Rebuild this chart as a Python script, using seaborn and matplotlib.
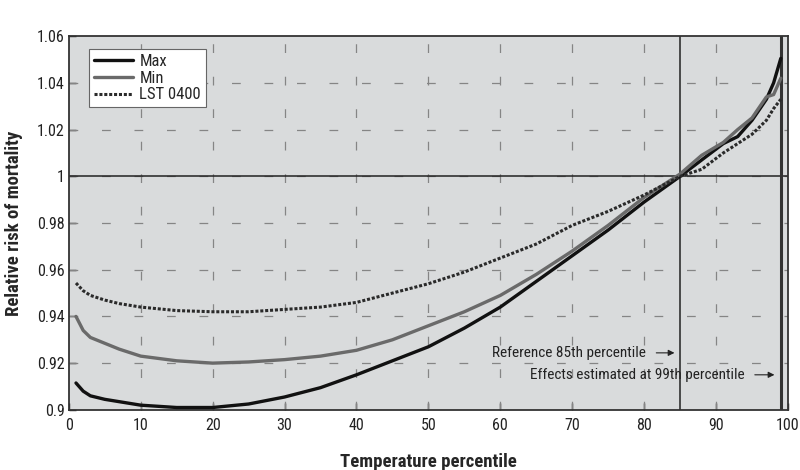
import matplotlib
matplotlib.use('Agg')
import matplotlib.pyplot as plt
from matplotlib import font_manager
import seaborn as sns

pct = [1, 2, 3, 5, 7, 10, 15, 20, 25, 30, 35, 40, 45, 50, 55, 60, 65, 70, 75, 80, 85, 88, 91, 93, 95, 97, 98, 99]

rr_max = [0.9115, 0.908, 0.906, 0.9045, 0.9035, 0.902, 0.901, 0.901, 0.9025, 0.9055, 0.9095, 0.915, 0.921, 0.927,
          0.935, 0.944, 0.955, 0.966, 0.977, 0.989, 1.000, 1.007, 1.014, 1.017, 1.024, 1.033, 1.040, 1.0505]
rr_min = [0.940, 0.934, 0.931, 0.9285, 0.926, 0.923, 0.921, 0.920, 0.9205, 0.9215, 0.923, 0.9255, 0.930, 0.936,
          0.942, 0.949, 0.958, 0.968, 0.979, 0.991, 1.001, 1.009, 1.0145, 1.020, 1.025, 1.034, 1.035, 1.042]
rr_lst = [0.9543, 0.951, 0.949, 0.947, 0.9455, 0.944, 0.9425, 0.942, 0.942, 0.943, 0.944, 0.946, 0.950, 0.954,
          0.959, 0.965, 0.971, 0.979, 0.985, 0.992, 1.000, 1.003, 1.010, 1.014, 1.018, 1.024, 1.029, 1.033]

series_names = ['Max', 'Min', 'LST 0400']
x_ticks = [0, 10, 20, 30, 40, 50, 60, 70, 80, 90, 100]
y_ticks = [0.9, 0.92, 0.94, 0.96, 0.98, 1.0, 1.02, 1.04, 1.06]
y_tick_labels = ['0.9', '0.92', '0.94', '0.96', '0.98', '1', '1.02', '1.04', '1.06']

sns.set_style('ticks')

#pick a narrow face if one is installed
installed = {f.name for f in font_manager.fontManager.ttflist}
narrow = [n for n in ['Liberation Sans Narrow', 'Roboto Condensed', 'DejaVu Sans Condensed'] if n in installed]
plt.rcParams['font.family'] = narrow + ['DejaVu Sans']
plt.rcParams['font.stretch'] = 'condensed'

fig = plt.figure(figsize=(8, 4.7), dpi=100)
ax = fig.add_axes([0.086, 0.128, 0.899, 0.795])
ax.set_facecolor('#d9dbdc')

# dashed grid
for xv in x_ticks[1:-1]:
    ax.axvline(xv, color='#858585', lw=0.9, ls=(0, (7, 19)), zorder=1)
for yv in y_ticks[1:-1]:
    ax.axhline(yv, color='#858585', lw=0.9, ls=(0, (7, 19)), zorder=1)

# reference lines
ax.axhline(1.0, color='#222222', lw=1.1, zorder=2)
ax.axvline(85, color='#222222', lw=1.1, zorder=2)
ax.axvline(99, color='#333333', lw=2.2, zorder=2)

styles = {'Max': dict(color='#111111', lw=2.4, ls='-'),
          'Min': dict(color='#6a6a6a', lw=2.4, ls='-'),
          'LST 0400': dict(color='#2a2a2a', lw=2.2, ls=(0, (1, 0.6)))}
for name, vals in zip(series_names, [rr_max, rr_min, rr_lst]):
    st = styles[name]
    sns.lineplot(x=pct, y=vals, ax=ax, label=name, color=st['color'], linewidth=st['lw'],
                 linestyle=st['ls'], zorder=3)

ax.set_xlim(0, 100)
ax.set_ylim(0.9, 1.06)
ax.set_xticks(x_ticks)
ax.set_yticks(y_ticks)
ax.set_yticklabels(y_tick_labels)
ax.tick_params(axis='x', direction='in', length=5, width=1, labelsize=11.5, colors='#222222', pad=6)
ax.tick_params(axis='y', direction='in', length=5, width=1, labelsize=11.5, colors='#222222', pad=3)
for sp in ax.spines.values():
    sp.set_color('#333333')
    sp.set_linewidth(1.3)

ax.set_xlabel('Temperature percentile', fontsize=13.5, fontweight='bold', labelpad=14)
ax.set_ylabel('Relative risk of mortality', fontsize=13.5, fontweight='bold', labelpad=10)

# annotations
ax.text(80.2, 0.9244, 'Reference 85th percentile', ha='right', va='center', fontsize=11, color='#222222')
ax.annotate('', xy=(84.6, 0.9244), xytext=(81.3, 0.9244),
            arrowprops=dict(arrowstyle='-|>', color='#222222', lw=0.8, mutation_scale=9))
ax.text(94.0, 0.915, 'Effects estimated at 99th percentile', ha='right', va='center', fontsize=11, color='#222222')
ax.annotate('', xy=(98.5, 0.915), xytext=(95.0, 0.915),
            arrowprops=dict(arrowstyle='-|>', color='#222222', lw=0.8, mutation_scale=9))

leg = ax.legend(loc='upper left', bbox_to_anchor=(0.017, 0.988), fontsize=12, frameon=True, fancybox=False,
                handlelength=2.3, handletextpad=0.4, borderpad=0.3, labelspacing=0.1)
leg.get_frame().set_edgecolor('#666666')
leg.get_frame().set_facecolor('white')
leg.get_frame().set_alpha(1)
leg.get_frame().set_linewidth(0.8)

fig.savefig('out.png', dpi=100)
